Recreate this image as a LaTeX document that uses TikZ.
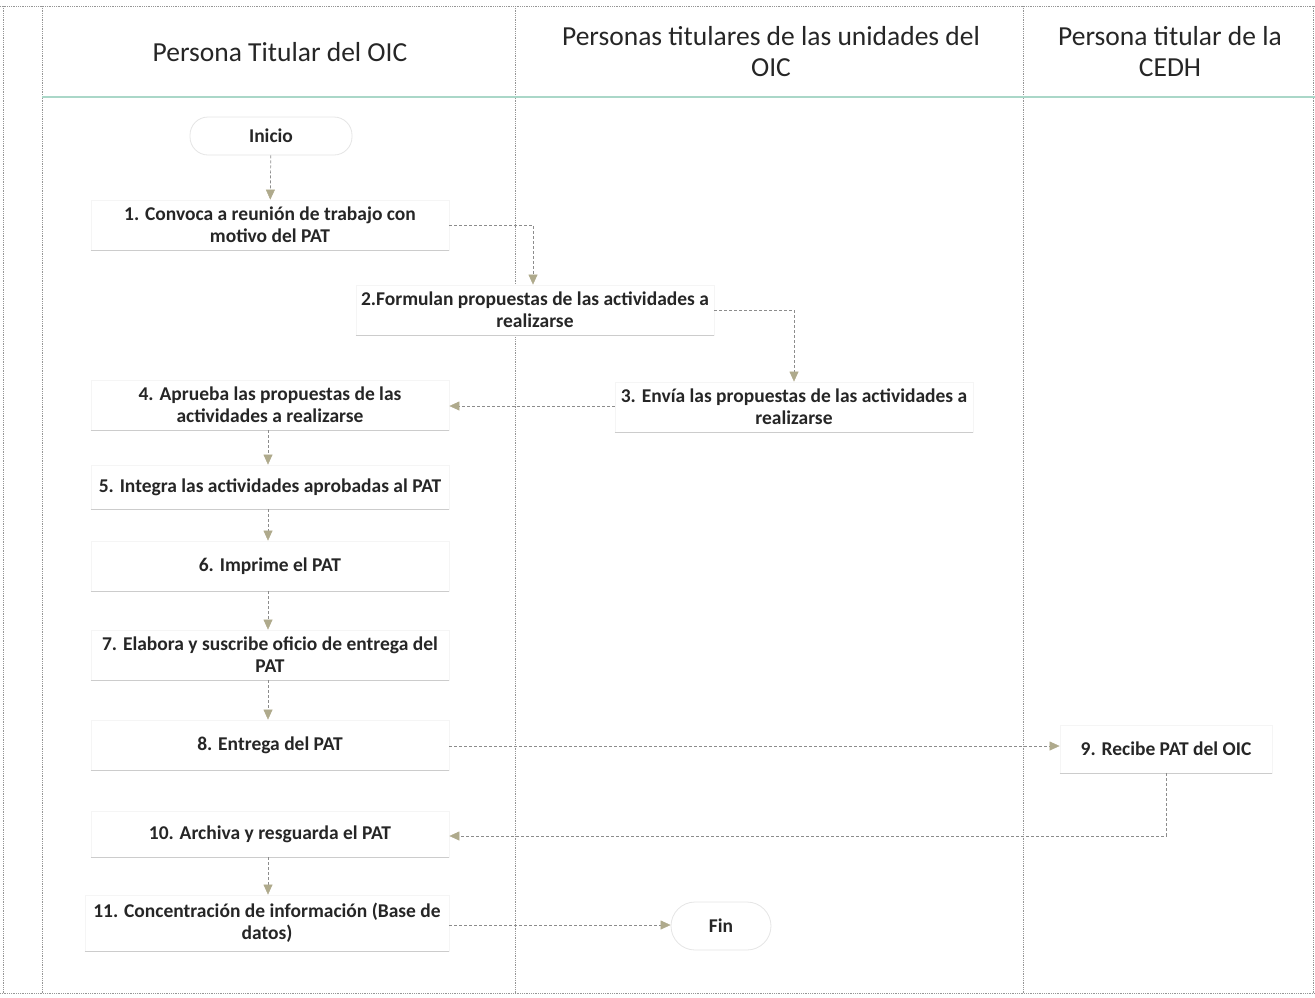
\documentclass[tikz,border=0pt]{standalone}
\usepackage{fontspec}
\setmainfont{Carlito}
\usetikzlibrary{arrows.meta}
\definecolor{lanecol}{RGB}{150,150,150}
\definecolor{sepcol}{RGB}{170,215,200}
\definecolor{tipcol}{RGB}{175,170,140}
\tikzset{
  lane/.style={draw=lanecol, line width=0.8pt, densely dotted},
  hdr/.style={font=\fontsize{27.5}{31}\selectfont, align=center, text=black!85},
  stepbox/.style={fill=white, draw=black!4, line width=0.8pt, minimum width=358pt, minimum height=50pt, align=center, font=\fontsize{19.5}{22}\selectfont\bfseries, text=black!85},
  term/.style={fill=white, draw=black!10, line width=0.8pt, rounded corners=18pt, minimum height=38pt, align=center, font=\fontsize{19.5}{22}\selectfont\bfseries, text=black!85},
  flow/.style={draw=black!45, line width=0.7pt, densely dashed, -{Triangle[length=10pt,width=9pt,color=tipcol,fill=tipcol,line width=0.5pt]}},
}
\newcommand{\shadowline}[1]{\draw[black!20, line width=1pt] (#1.south west) -- (#1.south east);}
\begin{document}
\begin{tikzpicture}[x=1pt,y=-1pt]
\useasboundingbox (0,0) rectangle (1315,997);
% frame and lanes
\draw[lane] (0,6) -- (1315,6);
\draw[lane] (3,6) -- (3,993);
\draw[lane] (42,6) -- (42,993);
\draw[lane] (515,6) -- (515,993);
\draw[lane] (1023,6) -- (1023,993);
\draw[lane] (1313,6) -- (1313,993);
\draw[lane] (0,993) -- (1315,993);
\draw[sepcol, line width=1.2pt] (42,97) -- (1315,97);
% headers
\node[hdr] (h1) at (280,52) {Persona Titular del OIC};
\node[hdr] (h2) at (771,52) {Personas titulares de las unidades del\\OIC};
\node[hdr] (h3) at (1170,52) {Persona titular de la\\CEDH};
% nodes
\node[term, minimum width=162pt] (ini) at (271,136) {Inicio};
\node[stepbox] (n1) at (270,225) {1. Convoca a reunión de trabajo con\\motivo del PAT};
\node[stepbox] (n2) at (535,310) {2.Formulan propuestas de las actividades a\\realizarse};
\node[stepbox] (n3) at (794,407) {3. Envía las propuestas de las actividades a\\realizarse};
\node[stepbox] (n4) at (270,405) {4. Aprueba las propuestas de las\\actividades a realizarse};
\node[stepbox, minimum height=44pt] (n5) at (270,487) {5. Integra las actividades aprobadas al PAT};
\node[stepbox] (n6) at (270,566) {6. Imprime el PAT};
\node[stepbox] (n7) at (270,655) {7. Elabora y suscribe oficio de entrega del\\PAT};
\node[stepbox] (n8) at (270,745) {8. Entrega del PAT};
\node[stepbox, minimum width=212pt, minimum height=48pt] (n9) at (1166,749) {9. Recibe PAT del OIC};
\node[stepbox, minimum height=46pt] (n10) at (270,834) {10. Archiva y resguarda el PAT};
\node[stepbox, minimum width=364pt, minimum height=56pt] (n11) at (267,923) {11. Concentración de información (Base de\\datos)};
\node[term, minimum width=100pt, minimum height=48pt, rounded corners=24pt] (fin) at (721,926) {Fin};
\foreach \n in {n1,n2,n3,n4,n5,n6,n7,n8,n9,n10,n11}{\shadowline{\n}}
% connectors
\draw[flow] (ini) -- (n1);
\draw[flow] (n1.east) -| (n2.north -| 533,0);
\draw[flow] (n2.east) -| (n3.north);
\draw[flow] (n3.west |- 0,406) -- (n4.east |- 0,406);
\draw[flow] (n4.south -| 268,0) -- (n5.north -| 268,0);
\draw[flow] (n5.south -| 268,0) -- (n6.north -| 268,0);
\draw[flow] (n6.south -| 268,0) -- (n7.north -| 268,0);
\draw[flow] (n7.south -| 268,0) -- (n8.north -| 268,0);
\draw[flow] (n8.east |- 0,746) -- (n9.west |- 0,746);
\draw[flow] (n9.south) |- (n10.east |- 0,836);
\draw[flow] (n10.south -| 268,0) -- (n11.north -| 268,0);
\draw[flow] (n11.east |- 0,925) -- (fin.west |- 0,925);
\end{tikzpicture}
\end{document}
